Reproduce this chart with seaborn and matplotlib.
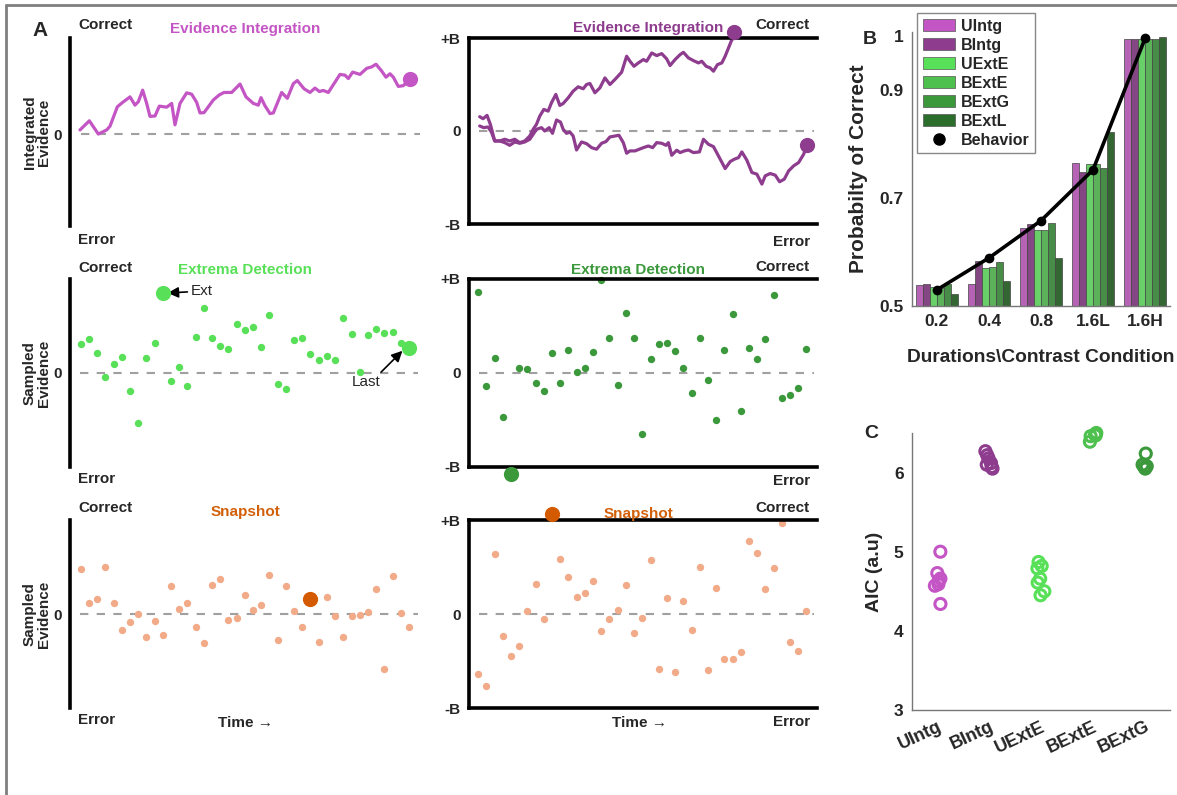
import numpy as np
import pandas as pd
import matplotlib
matplotlib.use("Agg")
import matplotlib.pyplot as plt
from matplotlib.lines import Line2D
from matplotlib.patches import Patch
import seaborn as sns

# ---------------- data ----------------
# Panel A, top-left: unbounded integration trace (time in arbitrary units)
ui_time = [240, 268, 295, 320, 330, 352, 368, 390, 405, 415, 428, 440, 450, 465, 478, 500,
           515, 525, 540, 560, 575, 590, 600, 612, 625, 640, 658, 672, 695, 720, 738, 760,
           775, 783, 795, 810, 820, 845, 862, 880, 892, 912, 930, 945, 958, 970, 985, 1000,
           1020, 1035, 1045, 1058, 1080, 1100, 1115, 1128, 1145, 1158, 1170, 1180, 1195, 1210, 1230]
ui_evid = [0.043, 0.138, 0.0, 0.043, 0.082, 0.284, 0.330, 0.387, 0.301, 0.337, 0.457, 0.319,
           0.184, 0.188, 0.291, 0.280, 0.319, 0.096, 0.319, 0.429, 0.415, 0.330, 0.220, 0.223,
           0.284, 0.355, 0.408, 0.433, 0.433, 0.521, 0.387, 0.319, 0.301, 0.379, 0.294, 0.213,
           0.220, 0.433, 0.372, 0.525, 0.557, 0.472, 0.433, 0.479, 0.443, 0.454, 0.433, 0.514,
           0.621, 0.613, 0.578, 0.645, 0.621, 0.684, 0.699, 0.727, 0.656, 0.592, 0.628, 0.592,
           0.496, 0.504, 0.574]

# Panel A, top-right: bounded integration, two trials
bi_up_time = [150, 160, 172, 182, 195, 210, 225, 240, 255, 270, 285, 300, 310, 320, 330, 342,
              355, 365, 378, 390, 400, 415, 430, 445, 460, 470, 480, 495, 510, 525, 540, 555,
              575, 590, 600, 612, 625, 640, 650, 665, 680, 695, 710, 720, 735, 750, 760, 775,
              790, 805, 815, 828, 840, 850, 862, 875, 885, 895, 905, 912]
bi_up_evid = [0.154, 0.132, 0.168, 0.071, -0.107, -0.107, -0.089, -0.107, -0.089, -0.125,
              -0.107, -0.054, 0.018, 0.071, 0.161, 0.232, 0.214, 0.304, 0.393, 0.275, 0.296,
              0.357, 0.429, 0.475, 0.454, 0.5, 0.511, 0.411, 0.464, 0.571, 0.5, 0.554, 0.632,
              0.804, 0.75, 0.696, 0.732, 0.768, 0.75, 0.839, 0.811, 0.832, 0.775, 0.704, 0.768,
              0.821, 0.846, 0.786, 0.757, 0.732, 0.75, 0.696, 0.679, 0.643, 0.714, 0.732, 0.804,
              0.893, 0.982, 1.0]
bi_dn_time = [150, 162, 175, 185, 195, 210, 225, 240, 255, 270, 285, 300, 310, 320, 335, 345,
              358, 368, 380, 392, 400, 410, 420, 430, 440, 455, 470, 485, 500, 515, 528, 540,
              555, 567, 580, 590, 600, 615, 628, 640, 655, 668, 680, 695, 708, 715, 725, 740,
              750, 763, 775, 790, 808, 820, 835, 850, 865, 885, 900, 912, 925, 935, 950, 965,
              980, 995, 1005, 1020, 1035, 1048, 1062, 1075, 1090, 1105, 1120, 1130]
bi_dn_evid = [0.054, 0.036, 0.043, -0.011, -0.107, -0.107, -0.125, -0.154, -0.118, -0.132,
              -0.118, -0.089, -0.036, 0.018, 0.036, 0.0, 0.036, -0.025, 0.118, 0.096, 0.018,
              -0.025, -0.011, -0.054, -0.204, -0.118, -0.136, -0.179, -0.196, -0.132, -0.114,
              -0.064, -0.054, -0.046, -0.125, -0.239, -0.214, -0.214, -0.196, -0.179, -0.161,
              -0.179, -0.125, -0.132, -0.154, -0.125, -0.261, -0.207, -0.232, -0.214, -0.204,
              -0.232, -0.225, -0.089, -0.143, -0.168, -0.268, -0.404, -0.329, -0.304, -0.286,
              -0.225, -0.314, -0.446, -0.464, -0.571, -0.482, -0.457, -0.475, -0.546, -0.518,
              -0.429, -0.375, -0.339, -0.25, -0.15]

# Panel A, middle: sampled evidence (one sample per time step)
ue_samples = [0.309, 0.362, 0.209, -0.046, 0.099, 0.174, -0.191, -0.535, 0.163, 0.319, 0.851,
              -0.085, 0.060, -0.142, 0.383, 0.691, 0.376, 0.284, 0.259, 0.521, 0.457, 0.486,
              0.273, 0.621, -0.121, -0.174, 0.348, 0.376, 0.206, 0.142, 0.184, 0.142, 0.589,
              0.411, 0.007, 0.401, 0.468, 0.422, 0.440, 0.319, 0.266]
ue_ext_idx, ue_last_idx = 10, 40
be_samples = [0.861, -0.136, 0.161, -0.471, -1.079, 0.054, 0.039, -0.104, -0.196, 0.214, -0.104,
              0.246, 0.011, 0.054, 0.225, 0.993, 0.375, -0.129, 0.639, 0.371, -0.654, 0.15,
              0.304, 0.321, 0.232, 0.05, -0.211, 0.375, -0.079, -0.496, 0.246, 0.625, -0.407,
              0.268, 0.15, 0.364, 0.832, -0.261, -0.232, -0.157, 0.257]
be_hit_idx = 4

# Panel A, bottom: snapshot samples
us_samples = [0.484, 0.12, 0.163, 0.505, 0.117, -0.166, -0.088, -0.004, -0.240, -0.078, -0.226,
              0.293, 0.057, 0.113, -0.141, -0.304, 0.307, 0.375, -0.064, -0.039, 0.205, 0.039,
              0.092, 0.413, -0.276, 0.293, 0.028, -0.134, 0.155, -0.297, 0.177, -0.025, -0.244,
              -0.018, -0.007, 0.018, 0.265, -0.580, 0.399, 0.014, -0.141]
us_pick_idx = 28
bs_samples = [-0.643, -0.768, 0.639, -0.236, -0.443, -0.343, 0.036, 0.314, -0.057, 1.068, 0.586,
              0.393, 0.182, 0.225, 0.354, -0.182, -0.054, 0.039, 0.304, -0.204, -0.043, 0.579,
              -0.582, 0.171, -0.621, 0.143, -0.175, 0.496, -0.593, 0.279, -0.479, -0.479, -0.407,
              0.779, 0.646, 0.268, 0.486, 0.964, -0.3, -0.393, 0.036]
bs_pick_idx = 9

# Panel B: probability correct per condition
conditions = ["0.2", "0.4", "0.8", "1.6L", "1.6H"]
models_b = ["UIntg", "BIntg", "UExtE", "BExtE", "BExtG", "BExtL"]
p_uintg = [0.539, 0.540, 0.644, 0.764, 0.994]
p_bintg = [0.540, 0.584, 0.651, 0.748, 0.994]
p_uexte = [0.535, 0.570, 0.641, 0.762, 0.994]
p_bexte = [0.534, 0.572, 0.641, 0.762, 0.994]
p_bextg = [0.540, 0.581, 0.653, 0.756, 0.994]
p_bextl = [0.523, 0.546, 0.589, 0.822, 0.998]
p_behavior = [0.530, 0.589, 0.658, 0.752, 0.995]

# Panel C: AIC per model (one circle per subject)
models_c = ["UIntg", "BIntg", "UExtE", "BExtE", "BExtG"]
aic_uintg = [5.0, 4.73, 4.66, 4.63, 4.59, 4.57, 4.34]
aic_bintg = [6.27, 6.22, 6.18, 6.12, 6.10, 6.07, 6.05]
aic_uexte = [4.87, 4.82, 4.79, 4.66, 4.61, 4.50, 4.45]
aic_bexte = [6.50, 6.48, 6.47, 6.46, 6.39]
aic_bextg = [6.24, 6.10, 6.08, 6.07, 6.05]

# ---------------- style ----------------
col = {"UIntg": "#C455C4", "BIntg": "#8E3D8E", "UExtE": "#58E058",
       "BExtE": "#4DC04D", "BExtG": "#3B993B", "BExtL": "#2B6E2B"}
snap_light = "#F2AB88"
snap_dark = "#D45A00"

sns.set_theme(style="white")
plt.rcParams["font.family"] = ["Liberation Sans", "DejaVu Sans"]
plt.rcParams["font.weight"] = "bold"
plt.rcParams["axes.labelweight"] = "bold"

W, H = 1177, 795
fig = plt.figure(figsize=(W / 100, H / 100), dpi=100)


def px_axes(x0, y0, x1, y1):
    return fig.add_axes([x0 / W, 1 - y1 / H, (x1 - x0) / W, (y1 - y0) / H])


def ftext(x, y, s, **kw):
    kw.setdefault("va", "center")
    kw.setdefault("fontweight", "bold")
    fig.text(x / W, 1 - y / H, s, **kw)


# outer frame (top and left edges only visible)
fig.add_artist(Line2D([6 / W, 1], [1 - 5 / H, 1 - 5 / H], transform=fig.transFigure,
                      color="#7f7f7f", lw=2))
fig.add_artist(Line2D([6 / W, 6 / W], [0, 1 - 5 / H], transform=fig.transFigure,
                      color="#7f7f7f", lw=2))

rows_top = [38, 279, 520]
rows_bot = [222, 467, 708]


def style_left(ax):
    for s in ["top", "right", "bottom"]:
        ax.spines[s].set_visible(False)
    ax.spines["left"].set_linewidth(2.6)
    ax.spines["left"].set_color("black")
    ax.set_xticks([])
    ax.set_yticks([0])
    ax.set_yticklabels(["0"])
    ax.tick_params(axis="y", length=4, width=2.2, color="black", labelsize=11, pad=2)
    ax.axhline(0, color="#a0a0a0", ls=(0, (4, 4)), lw=1.5, xmin=0.03, zorder=0)
    ax.set_ylim(-1, 1)
    ax.set_xlabel("")
    ax.set_ylabel("")
    ax.patch.set_alpha(0)


def style_right(ax):
    ax.spines["right"].set_visible(False)
    for s in ["top", "left", "bottom"]:
        ax.spines[s].set_linewidth(2.6)
        ax.spines[s].set_color("black")
    ax.set_xticks([])
    ax.set_yticks([-1, 0, 1])
    ax.set_yticklabels(["-B", "0", "+B"])
    ax.tick_params(axis="y", length=4, width=2.2, color="black", labelsize=11, pad=2)
    ax.axhline(0, color="#a0a0a0", ls=(0, (4, 4)), lw=1.5, xmin=0.03, xmax=0.99, zorder=0)
    ax.set_ylim(-1, 1)
    ax.set_xlabel("")
    ax.set_ylabel("")
    ax.patch.set_alpha(0)


# ---- A top-left: unbounded integration ----
ax1 = px_axes(70, rows_top[0], 420, rows_bot[0] + 4)
sns.lineplot(x=ui_time, y=ui_evid, color=col["UIntg"], lw=2.3, sort=False, ax=ax1)
sns.scatterplot(x=[ui_time[-1]], y=[ui_evid[-1]], color=col["UIntg"], s=120, linewidth=0,
                ax=ax1, zorder=5)
ax1.set_xlim(210, 1260)
style_left(ax1)
ax1.set_ylim(-0.957, 1)

# ---- A top-right: bounded integration ----
ax2 = px_axes(469, rows_top[0], 817, rows_bot[0] + 2)
sns.lineplot(x=bi_up_time, y=bi_up_evid, color=col["BIntg"], lw=2.3, sort=False, ax=ax2)
sns.lineplot(x=bi_dn_time, y=bi_dn_evid, color=col["BIntg"], lw=2.3, sort=False, ax=ax2)
sns.scatterplot(x=[bi_up_time[-1], bi_dn_time[-1]], y=[bi_up_evid[-1] + 0.06, bi_dn_evid[-1]],
                color=col["BIntg"], s=120, linewidth=0, ax=ax2, zorder=5, clip_on=False)
ax2.set_xlim(118, 1160)
style_right(ax2)

# ---- A middle-left: unbounded extrema detection ----
ax3 = px_axes(70, rows_top[1], 418, rows_bot[1])
idx = np.arange(len(ue_samples))
sns.scatterplot(x=idx, y=ue_samples, color=col["UExtE"], s=28, linewidth=0, ax=ax3)
sns.scatterplot(x=[ue_ext_idx, ue_last_idx], y=[ue_samples[ue_ext_idx], ue_samples[ue_last_idx]],
                color=col["UExtE"], s=120, linewidth=0, ax=ax3, zorder=5, clip_on=False)
ax3.set_xlim(-1.3, 41.1)
style_left(ax3)
ax3.annotate("Ext", xy=(ue_ext_idx + 0.6, ue_samples[ue_ext_idx]),
             xytext=(ue_ext_idx + 3.4, ue_samples[ue_ext_idx] + 0.02),
             ha="left", va="center", fontsize=11, fontweight="normal",
             arrowprops=dict(arrowstyle="-|>", color="black", lw=1.2, shrinkA=0, shrinkB=0,
                             mutation_scale=16))
ax3.annotate("Last", xy=(ue_last_idx - 0.8, ue_samples[ue_last_idx] - 0.03),
             xytext=(ue_last_idx - 5.2, -0.1),
             ha="center", va="center", fontsize=11, fontweight="normal",
             arrowprops=dict(arrowstyle="-|>", color="black", lw=1.2, shrinkA=0, shrinkB=0,
                             relpos=(0.9, 1.0), mutation_scale=16))

# ---- A middle-right: bounded extrema detection ----
ax4 = px_axes(469, rows_top[1], 817, rows_bot[1])
idx = np.arange(len(be_samples))
small = [v for i, v in enumerate(be_samples) if i != be_hit_idx]
small_idx = [i for i in idx if i != be_hit_idx]
sns.scatterplot(x=small_idx, y=small, color=col["BExtG"], s=28, linewidth=0, ax=ax4,
                clip_on=False)
sns.scatterplot(x=[be_hit_idx], y=[be_samples[be_hit_idx]], color=col["BExtG"], s=120,
                linewidth=0, ax=ax4, zorder=5, clip_on=False)
ax4.set_xlim(-1.13, 41.3)
style_right(ax4)

# ---- A bottom-left: unbounded snapshot ----
ax5 = px_axes(70, rows_top[2], 418, rows_bot[2])
idx = np.arange(len(us_samples))
small = [v for i, v in enumerate(us_samples) if i != us_pick_idx]
small_idx = [i for i in idx if i != us_pick_idx]
sns.scatterplot(x=small_idx, y=small, color=snap_light, s=28, linewidth=0, ax=ax5)
sns.scatterplot(x=[us_pick_idx], y=[us_samples[us_pick_idx]], color=snap_dark, s=120,
                linewidth=0, ax=ax5, zorder=5)
ax5.set_xlim(-1.3, 41.1)
style_left(ax5)

# ---- A bottom-right: bounded snapshot ----
ax6 = px_axes(469, rows_top[2], 817, rows_bot[2])
idx = np.arange(len(bs_samples))
small = [v for i, v in enumerate(bs_samples) if i != bs_pick_idx]
small_idx = [i for i in idx if i != bs_pick_idx]
sns.scatterplot(x=small_idx, y=small, color=snap_light, s=28, linewidth=0, ax=ax6,
                clip_on=False)
sns.scatterplot(x=[bs_pick_idx], y=[bs_samples[bs_pick_idx]], color=snap_dark, s=120,
                linewidth=0, ax=ax6, zorder=5, clip_on=False)
ax6.set_xlim(-1.13, 41.3)
style_right(ax6)

# ---- panel A texts ----
ftext(40, 30, "A", fontsize=15, ha="center")
titles_l = [("Evidence Integration", col["UIntg"]), ("Extrema Detection", col["UExtE"]),
            ("Snapshot", "#D2600A")]
titles_r = [("Evidence Integration", col["BIntg"], 648, 28),
            ("Extrema Detection", col["BExtG"], 638, 270),
            ("Snapshot", "#D2600A", 638, 514)]
corr_l = [25, 268, 508]
err_l = [240, 479, 720]
corr_r = [25, 267, 508]
err_r = [242, 481, 722]
ylabels = ["Integrated\nEvidence", "Sampled\nEvidence", "Sampled\nEvidence"]
zeros = [132, 373, 614]
for k in range(3):
    ftext(78, corr_l[k], "Correct", fontsize=11, ha="left")
    ftext(78, err_l[k], "Error", fontsize=11, ha="left")
    ftext(810, corr_r[k], "Correct", fontsize=11, ha="right")
    ftext(810, err_r[k], "Error", fontsize=11, ha="right")
    ftext(245, [29, 270, 512][k], titles_l[k][0], color=titles_l[k][1], fontsize=11,
          ha="center")
    ftext(titles_r[k][2], titles_r[k][3], titles_r[k][0], color=titles_r[k][1], fontsize=11,
          ha="center")
    ftext(37, zeros[k], ylabels[k], fontsize=11, ha="center", rotation=90,
          linespacing=1.0)
ftext(245, 723, "Time \u2192", fontsize=11, ha="center")
ftext(640, 723, "Time \u2192", fontsize=11, ha="center")

# ---- panel B ----
dfB = pd.DataFrame({
    "cond": conditions * 6,
    "model": np.repeat(models_b, len(conditions)),
    "p": p_uintg + p_bintg + p_uexte + p_bexte + p_bextg + p_bextl,
})
axB = px_axes(912, 32, 1170, 306)
sns.barplot(data=dfB, x="cond", y="p", hue="model", order=conditions, hue_order=models_b,
            palette=col, width=0.8, gap=0, edgecolor="#444444", linewidth=0.5,
            legend=False, ax=axB)
sns.lineplot(x=np.arange(len(conditions)), y=p_behavior, color="black", lw=2.6,
             marker="o", markersize=7, markeredgewidth=0, ax=axB, zorder=10)
axB.set_ylim(0.5, 1.007)
axB.set_xlim(-0.48, 4.48)
axB.set_yticks([0.5, 0.7, 0.9, 1.0])
axB.set_yticklabels(["0.5", "0.7", "0.9", "1"])
axB.set_xlabel("Durations\\Contrast Condition", fontsize=13.8, labelpad=14)
axB.set_ylabel("Probabilty of Correct", fontsize=15, labelpad=8)
for s in ["top", "right"]:
    axB.spines[s].set_visible(False)
for s in ["left", "bottom"]:
    axB.spines[s].set_color("#777777")
    axB.spines[s].set_linewidth(1.0)
axB.tick_params(axis="both", direction="in", length=3, color="#777777", labelsize=12.5,
                pad=6)
axB.tick_params(axis="x", length=0)
handles = [Patch(facecolor=col[m], edgecolor="#555555", lw=0.5) for m in models_b]
handles.append(Line2D([], [], color="black", marker="o", ls="none", markersize=8))
axB.legend(handles, models_b + ["Behavior"], loc="upper left",
           bbox_to_anchor=(917 / W, 1 - 13 / H), bbox_transform=fig.transFigure,
           frameon=True, fancybox=False, edgecolor="#888888", framealpha=1,
           handlelength=2.0, handleheight=0.8, handletextpad=0.4, labelspacing=0.25,
           borderpad=0.35, borderaxespad=0, prop={"weight": "bold", "size": 11.5})
ftext(870, 40, "B", fontsize=14, ha="center")

# ---- panel C ----
dfC = pd.DataFrame({
    "model": ["UIntg"] * len(aic_uintg) + ["BIntg"] * len(aic_bintg)
    + ["UExtE"] * len(aic_uexte) + ["BExtE"] * len(aic_bexte) + ["BExtG"] * len(aic_bextg),
    "aic": aic_uintg + aic_bintg + aic_uexte + aic_bexte + aic_bextg,
})
axC = px_axes(912, 433, 1170, 710)
np.random.seed(4)
sns.stripplot(data=dfC, x="model", y="aic", hue="model", order=models_c,
              palette={m: col[m] for m in models_c}, jitter=0.07, size=8, linewidth=0,
              legend=False, ax=axC)
for coll in axC.collections:
    fc = coll.get_facecolor()
    coll.set_facecolor("none")
    coll.set_edgecolor(fc)
    coll.set_linewidth(2.2)
    coll.set_clip_on(False)
axC.set_ylim(3, 6.5)
axC.set_xlim(-0.48, 4.48)
axC.set_yticks([3, 4, 5, 6])
axC.set_xlabel("")
axC.set_ylabel("AIC (a.u)", fontsize=14, labelpad=8)
for s in ["top", "right"]:
    axC.spines[s].set_visible(False)
for s in ["left", "bottom"]:
    axC.spines[s].set_color("#777777")
    axC.spines[s].set_linewidth(1.0)
axC.tick_params(axis="both", direction="in", length=3, color="#777777", labelsize=12.5,
                pad=6)
axC.tick_params(axis="x", labelsize=13)
plt.setp(axC.get_xticklabels(), rotation=25, ha="right", rotation_mode="anchor")
ftext(871, 433, "C", fontsize=14, ha="center")

fig.savefig("out.png", dpi=100, facecolor="white")
